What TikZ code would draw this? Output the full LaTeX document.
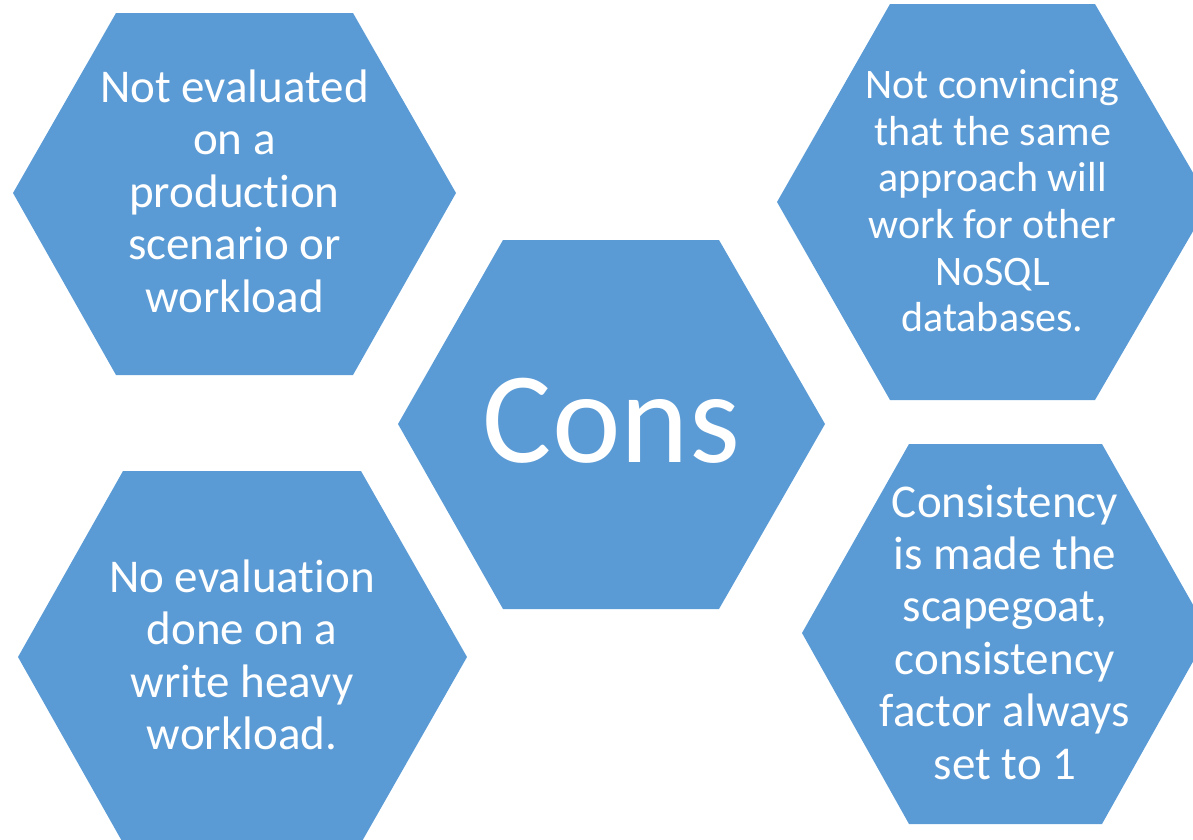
\documentclass[tikz,border=0pt]{standalone}
\usepackage{fontspec}
\setmainfont{Carlito}[Ligatures={NoCommon}]
\definecolor{hexblue}{HTML}{5B9BD5}
\begin{document}
\begin{tikzpicture}[x=1pt,y=-1pt,
  hexfill/.style={fill=hexblue,draw=none},
  hextext/.style={text=white,inner sep=0pt,anchor=base,align=flush center,text width=320pt},
  bigtext/.style={hextext,font=\fontsize{47}{52.5}\selectfont},
  midtext/.style={hextext,font=\fontsize{42}{46.7}\selectfont}]
\useasboundingbox (0,0) rectangle (1193,839);
\clip (0,0) rectangle (1193,839);

% hexagon outlines
\fill[hexfill] (116,13) -- (353,13) -- (456,193) -- (353,375) -- (116,375) -- (13,193) -- cycle;
\fill[hexfill] (890,4) -- (1095,4) -- (1210,202) -- (1095,400) -- (890,400) -- (777,202) -- cycle;
\fill[hexfill] (503,240) -- (719,240) -- (825,424) -- (719,609) -- (503,609) -- (398,424) -- cycle;
\fill[hexfill] (123,471) -- (361,471) -- (467,657) -- (361,843) -- (123,843) -- (18,657) -- cycle;
\fill[hexfill] (909,444) -- (1102,444) -- (1209,633) -- (1102,824) -- (909,824) -- (802,633) -- cycle;

% labels
\node[bigtext] (tl) at (234.5,102) {Not evaluated\\on a\\production\\scenario or\\workload};
\node[midtext] (tr) at (992.5,98.3) {Not convincing\\that the same\\approach will\\work for other\\NoSQL\\databases.};
\node[hextext,font=\fontsize{130}{140}\selectfont] (cons) at (611.5,462) {Cons};
\node[bigtext] (bl) at (242,592) {No evaluation\\done on a\\write heavy\\workload.};
\node[hextext,font=\fontsize{47}{52.4}\selectfont] (br) at (1005,517) {Consistency\\is made the\\scapegoat,\\consistency\\factor always\\set to 1};
\end{tikzpicture}
\end{document}
